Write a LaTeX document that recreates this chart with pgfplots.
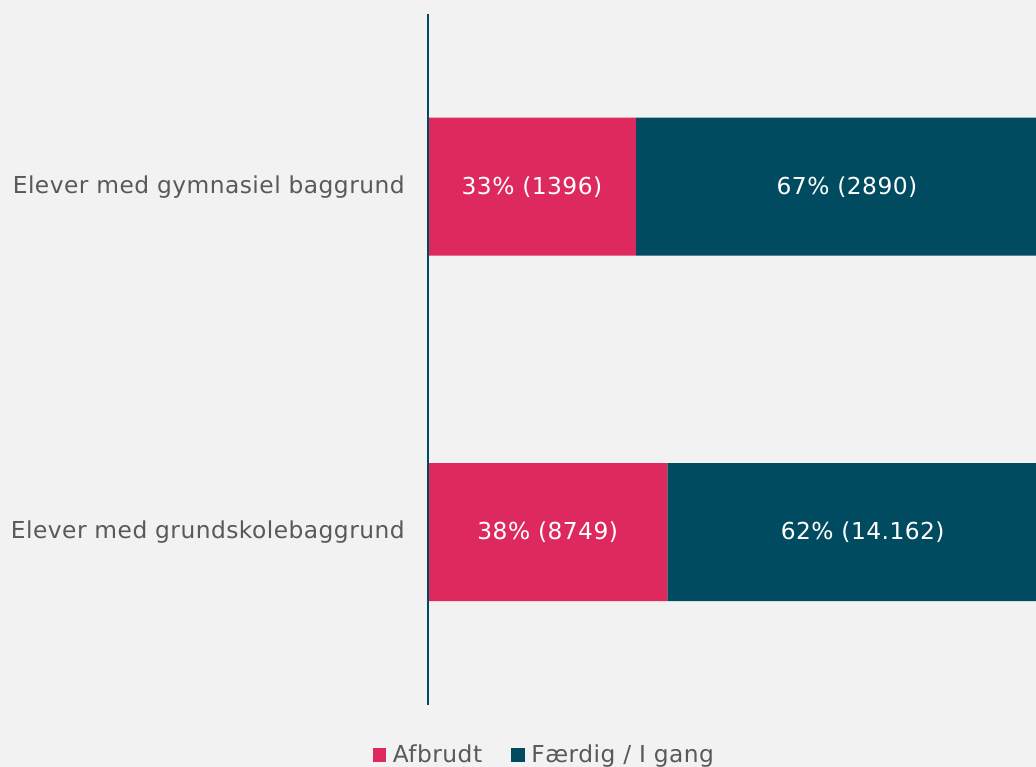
\documentclass[border=0pt]{standalone}
\usepackage{pgfplots}
\pgfplotsset{compat=1.18}
\usepackage{fontspec}
\setmainfont[LetterSpace=2]{DejaVu Sans}
\definecolor{pinkbar}{HTML}{DD295E}
\definecolor{tealbar}{HTML}{004B5F}
\definecolor{bgcol}{HTML}{F2F2F2}
\definecolor{txtgray}{HTML}{595959}
\newcommand{\chartfont}{\fontsize{17.5}{21}\selectfont}
\begin{document}
\begin{tikzpicture}
% 1 px of the reference = 0.75pt
\fill[bgcol] (0pt,0pt) rectangle (777pt,575.25pt);
\path[use as bounding box] (0pt,0pt) rectangle (777pt,575.25pt);
\pgfplotsset{
  common/.style={
    at={(321pt,46.5pt)}, anchor=south west,
    scale only axis, width=456pt, height=518.25pt,
    xmin=0, xmax=96.5, ymin=-0.5, ymax=1.5,
  }
}
\begin{axis}[
  common,
  xbar stacked, bar width=103.5pt,
  axis on top,
  axis x line=none, axis y line*=left,
  every outer y axis line/.append style={tealbar, line width=2pt},
  ytick={0,1},
  yticklabels={Elever med grundskolebaggrund, Elever med gymnasiel baggrund},
  major tick length=0pt,
  yticklabel style={font=\chartfont, text=txtgray, xshift=-14pt},
  legend style={at={(0.192,-0.0724)}, anchor=center, draw=none, fill=none,
    font=\chartfont, text=txtgray, legend columns=2,
    /tikz/every odd column/.append style={column sep=3pt},
    /tikz/every even column/.append style={column sep=20pt}},
  legend image code/.code={\fill[#1] (-5pt,-5pt) rectangle (5pt,5pt);},
]
\addplot[fill=pinkbar, draw=none] coordinates {(38,0) (33,1)};
\addplot[fill=tealbar, draw=none] coordinates {(62,0) (67,1)};
\legend{Afbrudt, Færdig / I gang}
\end{axis}
% value labels, centred in each segment
\begin{axis}[
  common, hide axis, clip=false,
  nodes near coords, point meta=explicit symbolic,
  every node near coord/.append style={font=\chartfont, text=white, anchor=center},
]
\addplot[draw=none, mark=none] coordinates {
  (19,0) [{38\% (8749)}]
  (69,0) [{62\% (14.162)}]
  (16.5,1) [{33\% (1396)}]
  (66.5,1) [{67\% (2890)}]
};
\end{axis}
\end{tikzpicture}
\end{document}
